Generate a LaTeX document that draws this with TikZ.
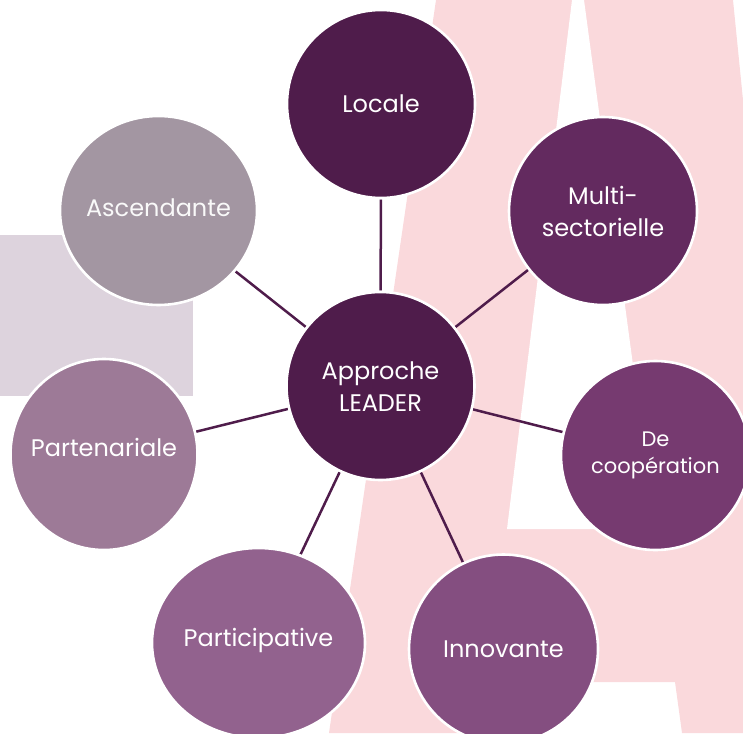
\documentclass[tikz,border=0pt]{standalone}
\usepackage{fontspec}
\setmainfont{Poppins}
\usetikzlibrary{shapes.geometric}
\definecolor{plumA}{HTML}{4F1C4B}
\definecolor{plumB}{HTML}{632A5F}
\definecolor{plumC}{HTML}{763A70}
\definecolor{plumD}{HTML}{844E80}
\definecolor{plumE}{HTML}{92628E}
\definecolor{plumF}{HTML}{9D7A97}
\definecolor{plumG}{HTML}{A396A2}
\definecolor{pinkA}{HTML}{FAD9DC}
\definecolor{lilacA}{HTML}{DDD3DD}
\pgfdeclarelayer{bg}
\pgfsetlayers{bg,main}
\begin{document}
\begin{tikzpicture}[x=1pt,y=-1pt,
  bubble/.style={ellipse, draw=white, line width=2.6pt, inner sep=0pt,
    minimum width=188pt, minimum height=188pt},
  btext/.style={text=white, align=center, font=\fontsize{24}{32}\selectfont},
  stext/.style={text=white, align=center, font=\fontsize{21}{27}\selectfont},
  link/.style={draw=plumA, line width=2.5pt}]
\useasboundingbox (0,0) rectangle (743,733);
\clip (0,0) rectangle (743,733);
% nodes
\node[bubble, fill=plumA, label={[btext, yshift=-1pt]center:Approche\\LEADER}] (ctr) at (380.5,386) {};
\node[bubble, fill=plumA, label={[btext]center:Locale}] (loc) at (381,104) {};
\node[bubble, fill=plumB, label={[btext]center:Multi-\\sectorielle}] (mul) at (603,211) {};
\node[bubble, fill=plumC, minimum width=189pt, minimum height=189pt, label={[stext]center:De\\coopération}] (coop) at (655.5,455.5) {};
\node[bubble, fill=plumD, minimum width=189pt, minimum height=189pt, label={[btext]center:Innovante}] (inno) at (503.5,649) {};
\node[bubble, fill=plumE, minimum width=213pt, minimum height=190pt, label={[btext, yshift=3pt]center:Participative}] (part) at (258.5,643) {};
\node[bubble, fill=plumF, minimum width=187pt, minimum height=191pt, label={[btext, yshift=7pt]center:Partenariale}] (pten) at (104,454.5) {};
\node[bubble, fill=plumG, minimum width=197pt, minimum height=189pt, label={[btext, yshift=3pt, text=white!94!plumG]center:Ascendante}] (asc) at (158.5,210.5) {};
\begin{pgfonlayer}{bg}
\fill[pinkA] (436,0) -- (733,0) -- (760,270) -- (760,733) -- (682,733) -- (675,682)
  -- (488,682) -- (482,733) -- (329,733) -- cycle;
\fill[white] (572,0) -- (584,0) -- (655,529) -- (507,529) -- cycle;
\fill[lilacA] (0,235) rectangle (193,396);
\draw[link] (ctr) -- (loc);
\draw[link] (ctr) -- (mul);
\draw[link] (ctr) -- (coop);
\draw[link] (ctr) -- (inno);
\draw[link] (ctr) -- (part);
\draw[link] (ctr) -- (pten);
\draw[link] (ctr) -- (asc);
\end{pgfonlayer}
\end{tikzpicture}
\end{document}
